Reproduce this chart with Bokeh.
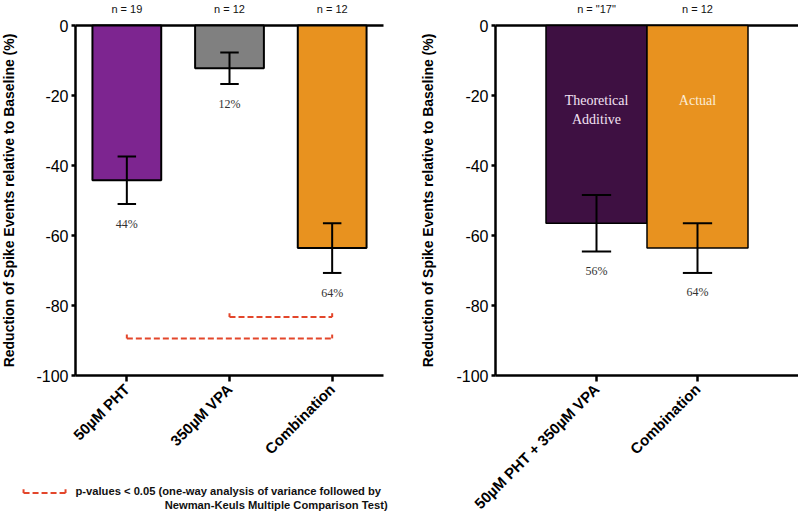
import math
from bokeh.plotting import figure
from bokeh.models import ColumnDataSource, FixedTicker, Range1d
from bokeh.layouts import row
from bokeh.embed import file_html
from bokeh.resources import INLINE
from bokeh.core.properties import value

# ---------------- data ----------------
left_categories = ["50µM PHT", "350µM VPA", "Combination"]
left_means = [-44.2, -12.2, -63.6]
left_sem = [6.8, 4.5, 7.1]
left_pct_labels = ["44%", "12%", "64%"]
left_n_labels = ["n = 19", "n = 12", "n = 12"]
left_colors = ["#7d2590", "#808080", "#e8921f"]

# significance brackets: (from category, to category) and level
sig_pairs = [(1, 2), (0, 2)]
sig_levels = [-83.3, -89.4]

right_categories = ["50µM PHT + 350µM VPA", "Combination"]
right_means = [-56.5, -63.6]
right_sem = [8.1, 7.1]
right_pct_labels = ["56%", "64%"]
right_n_labels = ['n = "17"', "n = 12"]
right_bar_text = ["Theoretical\nAdditive", "Actual"]
right_colors = ["#3e1042", "#e8921f"]
right_text_colors = ["#f3e2f3", "#fbecd6"]

y_ticks = [0, -20, -40, -60, -80, -100]
y_tick_labels = ["0", "-20", "-40", "-60", "-80", "-100"]
y_label = "Reduction of Spike Events relative to Baseline (%)"
legend_line1 = "p-values < 0.05 (one-way analysis of variance followed by"
legend_line2 = "Newman-Keuls Multiple Comparison Test)"

SANS = "Liberation Sans"
SERIF = "Liberation Serif"
RED = "#e3462b"
H = 512
TOP = 25          # pixels above the y = 0 line
PX_Y = 3.5        # pixels per y unit
Y_MIN, Y_MAX = -100, 0


def make_fig(width, axis_px, px_x, n_cat_span, label_standoff):
    x_range = Range1d(-axis_px / px_x, (width - axis_px) / px_x)
    y_range = Range1d(-(H - TOP) / PX_Y, TOP / PX_Y)
    p = figure(width=width, height=H, x_range=x_range, y_range=y_range,
               output_backend="svg", toolbar_location=None,
               min_border_left=0, min_border_right=0, min_border_top=0,
               min_border_bottom=0)
    p.grid.grid_line_color = None
    p.outline_line_color = None
    p.background_fill_color = "white"
    p.border_fill_color = "white"

    ya = p.yaxis[0]
    ya.fixed_location = 0
    ya.bounds = (Y_MIN, Y_MAX)
    ya.ticker = FixedTicker(ticks=y_ticks)
    ya.major_label_overrides = {t: s for t, s in zip(y_ticks, y_tick_labels)}
    ya.axis_label = y_label
    ya.axis_label_text_font = SANS
    ya.axis_label_text_font_style = "bold"
    ya.axis_label_text_font_size = "14px"
    ya.axis_label_text_color = "black"
    ya.axis_label_standoff = label_standoff
    ya.major_label_text_font = SANS
    ya.major_label_text_font_size = "16px"
    ya.major_label_text_color = "black"
    ya.major_label_standoff = 3
    ya.axis_line_width = 2.5
    ya.axis_line_color = "black"
    ya.major_tick_line_width = 2.5
    ya.major_tick_out = 4
    ya.major_tick_in = 0
    ya.minor_tick_line_color = None

    xa = p.xaxis[0]
    xa.fixed_location = Y_MIN
    xa.bounds = (0, n_cat_span)
    xa.major_label_text_font = SANS
    xa.major_label_text_font_style = "bold"
    xa.major_label_text_font_size = "15px"
    xa.major_label_text_color = "black"
    xa.major_label_orientation = math.pi / 4
    xa.major_label_standoff = 5
    xa.axis_line_width = 2.5
    xa.axis_line_color = "black"
    xa.major_tick_line_width = 2.5
    xa.major_tick_out = 6
    xa.major_tick_in = 0
    xa.minor_tick_line_color = None

    # top line at y = 0
    p.segment(x0=[0], y0=[Y_MAX], x1=[n_cat_span], y1=[Y_MAX], line_color="black",
              line_width=2.5)
    return p


def draw_bars(p, xs, means, sems, colors, width, cap, line_w):
    src = ColumnDataSource(dict(x=xs, top=[0] * len(xs), bottom=means, color=colors))
    p.vbar(x="x", top="top", bottom="bottom", width=width, fill_color="color",
           line_color="black", line_width=line_w, source=src)
    up = [m + s for m, s in zip(means, sems)]
    lo = [m - s for m, s in zip(means, sems)]
    p.segment(x0=xs, y0=up, x1=xs, y1=lo, line_color="black", line_width=2)
    p.segment(x0=[x - cap / 2 for x in xs], y0=up, x1=[x + cap / 2 for x in xs], y1=up,
              line_color="black", line_width=2)
    p.segment(x0=[x - cap / 2 for x in xs], y0=lo, x1=[x + cap / 2 for x in xs], y1=lo,
              line_color="black", line_width=2)
    return lo


def add_n_labels(p, xs, labels):
    p.text(x=xs, y=[17 / PX_Y] * len(xs), text=labels, text_align="center",
           text_baseline="middle", text_font=value(SANS), text_font_size="11px",
           text_color="#111111")


# ---------------- left panel ----------------
left_x = [i + 0.5 for i in range(len(left_categories))]
left_span = len(left_categories)
pl = make_fig(400, 75, 308 / 3, left_span, 16)
pl.xaxis[0].ticker = FixedTicker(ticks=left_x)
pl.xaxis[0].major_label_overrides = {x: c for x, c in zip(left_x, left_categories)}
lo = draw_bars(pl, left_x, left_means, left_sem, left_colors, 0.67, 0.18, 2)
pl.text(x=left_x, y=[v - 5.6 for v in lo], text=left_pct_labels,
        text_font=value(SERIF), text_font_size="12px", text_align="center",
        text_baseline="middle", text_color="#333333")
add_n_labels(pl, left_x, left_n_labels)

# significance brackets
for (a, b), lvl in zip(sig_pairs, sig_levels):
    xa_, xb_ = left_x[a], left_x[b]
    pl.line(x=[xa_, xb_], y=[lvl, lvl], line_color=RED, line_width=2, line_dash="6 3")
    pl.segment(x0=[xa_, xb_], y0=[lvl, lvl], x1=[xa_, xb_], y1=[lvl + 1.1, lvl + 1.1],
               line_color=RED, line_width=2)

# legend below the axis labels
leg_y = -133.6
leg_x0, leg_x1 = -0.506, -0.097
pl.line(x=[leg_x0, leg_x1], y=[leg_y, leg_y], line_color=RED, line_width=2,
        line_dash="6 3")
pl.segment(x0=[leg_x0, leg_x1], y0=[leg_y, leg_y], x1=[leg_x0, leg_x1],
           y1=[leg_y + 1.1, leg_y + 1.1], line_color=RED, line_width=2)
pl.text(x=[0], y=[-133.1], text=[legend_line1], text_font=value(SANS),
        text_font_style="bold", text_font_size="11.2px", text_align="left",
        text_baseline="middle", text_color="#111111")
pl.text(x=[3.04], y=[-137.0], text=[legend_line2], text_font=value(SANS),
        text_font_style="bold", text_font_size="11.2px", text_align="right",
        text_baseline="middle", text_color="#111111")

# ---------------- right panel ----------------
right_x = [i + 1 for i in range(len(right_categories))]
right_span = len(right_categories) + 1
pr = make_fig(398, 95, 101, right_span, 17)
pr.xaxis[0].ticker = FixedTicker(ticks=right_x)
pr.xaxis[0].major_label_overrides = {x: c for x, c in zip(right_x, right_categories)}
lo_r = draw_bars(pr, right_x, right_means, right_sem, right_colors, 1.0, 0.29, 1.5)
pr.text(x=right_x, y=[v - 5.5 for v in lo_r], text=right_pct_labels,
        text_font=value(SERIF), text_font_size="12px", text_align="center",
        text_baseline="middle", text_color="#333333")
pr.text(x=right_x, y=[-19.2] * len(right_x), text=right_bar_text,
        text_color=right_text_colors, text_font=value(SERIF), text_font_size="14px",
        text_align="center", text_baseline="top", text_line_height=1.3)
add_n_labels(pr, right_x, right_n_labels)

layout = row(pl, pr)
open("out.html", "w").write(file_html(layout, INLINE))
